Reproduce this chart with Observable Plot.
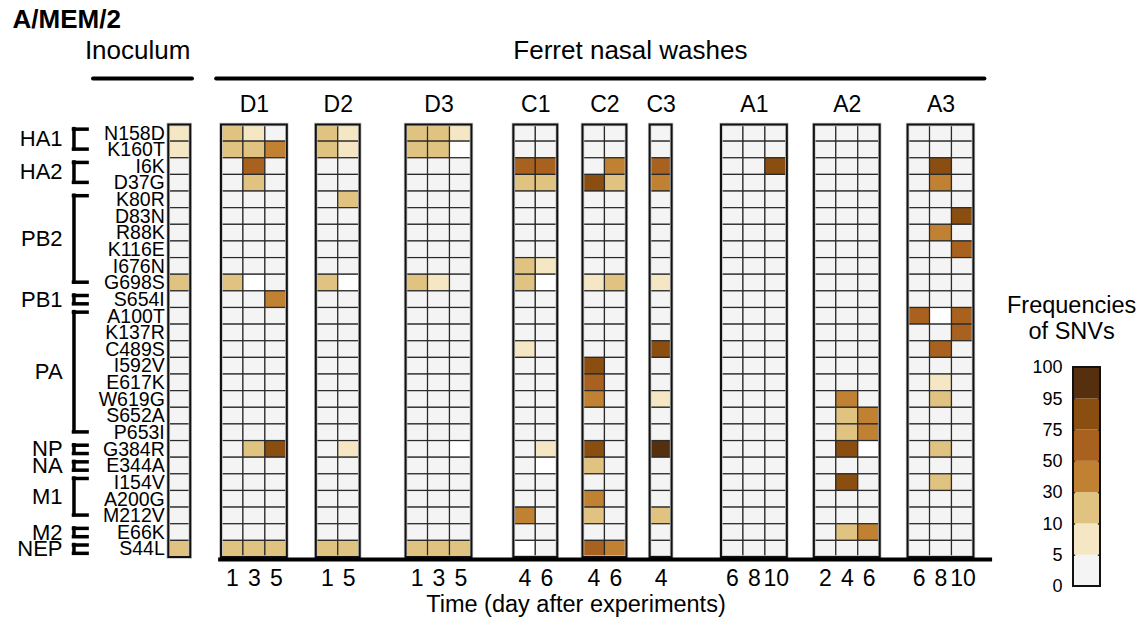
<!DOCTYPE html>
<html>
<head>
<meta charset="utf-8">
<script src="https://cdn.jsdelivr.net/npm/d3@7"></script>
<script src="https://cdn.jsdelivr.net/npm/@observablehq/plot@0.6"></script>
<style>
  body { margin: 0; background: #fff; }
  #chart { position: relative; width: 1143px; height: 626px; overflow: hidden; }
  #legend { position: absolute; left: 990px; top: 280px; }
</style>
</head>
<body>
<div id="chart"></div>
<script>
// ---------------- DATA ----------------
const mutations = ["N158D","K160T","I6K","D37G","K80R","D83N","R88K","K116E","I676N","G698S",
  "S654I","A100T","K137R","C489S","I592V","E617K","W619G","S652A","P653I","G384R",
  "E344A","I154V","A200G","M212V","E66K","S44L"];

const genes     = ["HA1","HA2","PB2","PB1","PA","NP","NA","M1","M2","NEP"];
const geneFirst = [0, 2, 4, 10, 11, 19, 20, 21, 24, 25];
const geneLast  = [1, 3, 9, 10, 18, 19, 20, 23, 24, 25];

const groups    = ["Inoculum","D1","D2","D3","C1","C2","C3","A1","A2","A3"];
const groupDays = [[""],[1,3,5],[1,5],[1,3,5],[4,6],[4,6],[4],[6,8,10],[2,4,6],[6,8,10]];

// SNV frequencies (%) per sample column, 26 rows each; null = no data (white)
const N = null;
const inoculum = [
  [7,7,0,0,0,0,0,0,0,20, 0,0,0,0,0,0,0,0,0,0, 0,0,0,0,0,20]];
const D1 = [
  [20,20,0,0,0,0,0,0,0,20, 0,0,0,0,0,0,0,0,0,0, 0,0,0,0,0,20],
  [7,20,60,20,0,0,0,0,0,N, 0,0,0,0,0,0,0,0,0,20, 0,0,0,0,0,20],
  [0,40,0,0,0,0,0,0,0,0, 40,0,0,0,0,0,0,0,0,85, 0,0,0,0,0,20]];
const D2 = [
  [20,20,0,0,0,0,0,0,0,20, 0,0,0,0,0,0,0,0,0,0, 0,0,0,0,0,20],
  [7,7,0,0,20,0,0,0,0,N, 0,0,0,0,0,0,0,0,0,7, 0,0,0,0,0,20]];
const D3 = [
  [20,20,0,0,0,0,0,0,0,20, 0,0,0,0,0,0,0,0,0,0, 0,0,0,0,0,20],
  [20,20,0,0,0,0,0,0,0,7, 0,0,0,0,0,0,0,0,0,0, 0,0,0,0,0,20],
  [7,N,0,0,0,0,0,0,0,0, 0,0,0,0,0,0,0,0,0,N, 0,0,0,0,0,20]];
const C1 = [
  [0,0,60,20,0,0,0,0,20,20, 0,0,0,7,0,0,0,0,0,0, 0,0,0,40,0,N],
  [0,0,60,20,0,0,0,0,7,N, 0,0,0,0,0,0,0,0,0,7, N,0,0,0,0,0]];
const C2 = [
  [0,0,0,85,0,0,0,0,0,7, 0,0,0,0,85,60,40,0,0,85, 20,0,40,20,0,60],
  [0,0,40,20,0,0,0,0,0,20, 0,0,0,0,0,0,0,0,0,0, 0,0,0,0,0,40]];
const C3 = [
  [0,0,60,40,0,0,0,0,0,7, 0,0,0,85,0,0,7,0,0,97, 0,0,0,20,0,0]];
const A1 = [
  [0,0,0,0,0,0,0,0,0,0, 0,0,0,0,0,0,0,0,0,0, 0,0,0,0,0,0],
  [0,0,0,0,0,0,0,0,0,0, 0,0,0,0,0,0,0,0,0,0, 0,0,0,0,0,0],
  [0,0,85,0,0,0,0,0,0,0, 0,0,0,0,0,0,0,0,0,0, 0,0,0,0,0,0]];
const A2 = [
  [0,0,0,0,0,0,0,0,0,0, 0,0,0,0,0,0,0,0,0,0, 0,0,0,0,0,0],
  [0,0,0,0,0,0,0,0,0,0, 0,0,0,0,0,0,40,20,20,85, 0,85,0,0,20,0],
  [0,0,0,0,0,0,0,0,0,0, 0,0,0,0,0,0,0,40,40,N, 0,0,0,0,40,0]];
const A3 = [
  [0,0,0,0,0,0,0,0,0,0, 0,60,0,0,0,0,0,0,0,0, 0,0,0,0,0,0],
  [0,0,85,40,0,0,40,0,0,0, 0,N,0,60,0,7,20,0,0,20, 0,20,0,0,0,0],
  [0,0,0,0,0,85,0,60,0,0, 0,60,60,0,0,0,0,0,0,0, 0,0,0,0,0,0]];
const groupValues = [inoculum, D1, D2, D3, C1, C2, C3, A1, A2, A3];

// colour bins
const binEdges   = [5, 10, 30, 50, 75, 95];
const binColors  = ["#f4f4f4","#f6e7c4","#e0c381","#c08132","#a8611f","#8a4e10","#56300e"];
const legendTicks = ["0","5","10","30","50","75","95","100"];
const binSample  = [0, 5, 10, 30, 50, 75, 95];

// ---------------- LAYOUT (column units) ----------------
const gapsBefore = [0, 1.4, 1.32, 2.09, 1.91, 1.15, 1.06, 2.25, 1.23, 1.27];
const starts = [];
{ let p = 0; groupValues.forEach((g, i) => { p += gapsBefore[i]; starts.push(p); p += g.length; }); }
const ends = starts.map((s, i) => s + groupValues[i].length);

const cells = [];
const ticks = [];
const tickLabel = new Map();
groupValues.forEach((cols, g) => {
  cols.forEach((col, c) => {
    col.forEach((v, r) => cells.push({x: starts[g] + c, row: r, v}));
    if (g > 0) {
      const cx = starts[g] + c + 0.5;
      ticks.push(cx);
      tickLabel.set(cx, String(groupDays[g][c]));
    }
  });
});
const frames = groups.map((name, i) => ({name, x1: starts[i], x2: ends[i]}));
const geneRows = genes.map((name, i) => {
  const single = geneFirst[i] === geneLast[i];
  const y1 = geneFirst[i] + 0.25;
  const y2 = single ? geneFirst[i] + 0.75 : geneLast[i] + 0.45;
  return {name, y1, y2, ym: (y1 + y2) / 2};
});

const colorScale = {type: "threshold", domain: [0, ...binEdges], range: ["#ffffff", ...binColors]};
const font = "'Liberation Sans', Arial, Helvetica, sans-serif";
const colW = 21.95;
const W = 1143, H = 626, mL = 168.3, mT = 124.5, mB = 69;
const xMax = 37;
const bx = -4.32; // bracket x (column units)

const chart = Plot.plot({
  width: W, height: H,
  marginLeft: mL, marginRight: W - mL - xMax * colW, marginTop: mT, marginBottom: mB,
  x: {domain: [0, xMax], axis: null},
  y: {domain: [0, 26], reverse: true, axis: null},
  color: colorScale,
  style: {fontFamily: font, fontSize: "20px", color: "#000", background: "#fff", overflow: "visible"},
  marks: [
    // cells
    Plot.rect(cells, {x1: d => d.x, x2: d => d.x + 1, y1: d => d.row, y2: d => d.row + 1,
      fill: d => d.v == null ? -1 : d.v, stroke: "#2a2a2a", strokeWidth: 1.2}),
    // group frames
    Plot.rect(frames, {x1: "x1", x2: "x2", y1: () => 0, y2: () => 26, fill: "none", stroke: "#c4c4c4", strokeWidth: 3.5}),
    Plot.rect(frames, {x1: "x1", x2: "x2", y1: () => 0, y2: () => 26, fill: "none", stroke: "#111", strokeWidth: 2}),
    // bottom axis line
    Plot.ruleY([26], {x1: starts[1] - 0.13, x2: ends[9] + 0.85, stroke: "#000", strokeWidth: 4, dy: 2}),
    // header lines
    Plot.ruleY([-2.8], {x1: starts[0] - 3.43, x2: ends[0] + 0.08, stroke: "#000", strokeWidth: 4, strokeLinecap: "round"}),
    Plot.ruleY([-2.8], {x1: starts[1] - 0.22, x2: ends[9] + 0.5, stroke: "#000", strokeWidth: 4, strokeLinecap: "round"}),
    // headers
    Plot.text(["Inoculum"], {x: starts[0] - 1.42, y: -4.45, fontSize: 26}),
    Plot.text(["Ferret nasal washes"], {x: 21.03, y: -4.45, fontSize: 26}),
    Plot.text(frames.slice(1), {x: d => (d.x1 + d.x2) / 2, y: -1.2, text: "name", fontSize: 23}),
    Plot.text(["A/MEM/2"], {x: -7.12, y: -6.35, textAnchor: "start", fontSize: 26, fontWeight: "bold"}),
    // gene brackets
    Plot.ruleX(geneRows, {x: bx, y1: "y1", y2: "y2", stroke: "#000", strokeWidth: 3.5, strokeLinecap: "square"}),
    Plot.ruleY(geneRows, {y: "y1", x1: bx, x2: bx + 0.62, stroke: "#000", strokeWidth: 3.5, strokeLinecap: "square"}),
    Plot.ruleY(geneRows, {y: "y2", x1: bx, x2: bx + 0.62, stroke: "#000", strokeWidth: 3.5, strokeLinecap: "square"}),
    Plot.text(geneRows, {x: -4.84, y: "ym", text: "name", textAnchor: "end", fontSize: 22}),
    // mutation labels
    Plot.axisY(d3.range(26).map(i => i + 0.5), {anchor: "left", tickSize: 0, tickPadding: 4, fontSize: 19.5,
      tickFormat: d => mutations[Math.floor(d)], label: null}),
    // day tick labels
    Plot.axisX(ticks, {anchor: "bottom", tickSize: 0, tickPadding: 12, fontSize: 23,
      tickFormat: d => tickLabel.get(d), label: null}),
    Plot.text(["Time (day after experiments)"], {x: 18.55, y: 28.85, fontSize: 23.5})
  ]
});

const legend = Plot.plot({
  width: 153, height: 320,
  marginLeft: 83, marginRight: 43, marginTop: 87, marginBottom: 14,
  x: {domain: [0, 1], axis: null},
  y: {domain: [0, 7], axis: null},
  color: colorScale,
  style: {fontFamily: font, fontSize: "18px", color: "#000", background: "transparent", overflow: "visible"},
  marks: [
    Plot.rect(d3.range(7), {x1: () => 0, x2: () => 1, y1: i => i, y2: i => i + 1, fill: i => binSample[i]}),
    Plot.ruleY(d3.range(1, 7), {x1: 0, x2: 0.08, stroke: "#333", strokeWidth: 1.5}),
    Plot.ruleY(d3.range(1, 7), {x1: 0.92, x2: 1, stroke: "#333", strokeWidth: 1.5}),
    Plot.rect([0], {x1: () => 0, x2: () => 1, y1: () => 0, y2: () => 7, fill: "none", stroke: "#111", strokeWidth: 2}),
    Plot.axisY(d3.range(8), {anchor: "left", tickSize: 0, tickPadding: 11, fontSize: 18,
      tickFormat: i => legendTicks[i], label: null}),
    Plot.text(["Frequencies\nof SNVs"], {x: -0.07, y: 8.6, fontSize: 23.5, lineHeight: 1.12})
  ]
});
legend.id = "legend";

const root = document.getElementById("chart");
root.appendChild(chart);
root.appendChild(legend);
</script>
</body>
</html>
